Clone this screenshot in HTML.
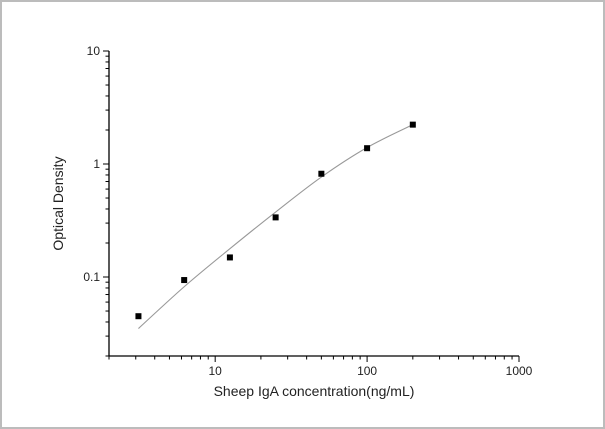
<!DOCTYPE html>
<html><head><meta charset="utf-8"><style>
body{margin:0;background:#fff}
#wrap{width:605px;height:429px;box-sizing:border-box;border:2px solid #bcbcbc;position:relative;background:#fff}
svg{position:absolute;left:-2px;top:-2px}
text{font-family:"Liberation Sans",Arial,sans-serif;fill:#222}
</style></head><body>
<div id="wrap">
<svg id="chart" width="605" height="429"></svg>
</div>
<script>
const xTicks=[10,100,1000];
const xTickLabels=["10","100","1000"];
const yTicks=[0.1,1,10];
const yTickLabels=["0.1","1","10"];
const concentrations=[3.125,6.25,12.5,25,50,100,200];
const odValues=[0.045,0.094,0.149,0.337,0.82,1.38,2.23];
const fitX=[3.125,6.25,12.5,25,50,100,200];
const fitY=[0.035,0.082,0.178,0.376,0.767,1.40,2.23];

const svg=document.getElementById('chart');
const NS='http://www.w3.org/2000/svg';
const L=109,R=519,T=51,B=356;
const xMin=2,xMax=1000,yMin=0.02,yMax=10;
const xs=v=>L+(Math.log10(v)-Math.log10(xMin))/(Math.log10(xMax)-Math.log10(xMin))*(R-L);
const ys=v=>B-(Math.log10(v)-Math.log10(yMin))/(Math.log10(yMax)-Math.log10(yMin))*(B-T);
function mk(tag,attrs){const e=document.createElementNS(NS,tag);for(const k in attrs)e.setAttribute(k,attrs[k]);svg.appendChild(e);return e;}

let e=mk('line',{x1:L,y1:T,x2:L,y2:B,stroke:'#000','stroke-width':1.3});


e=mk('line',{x1:L,y1:B,x2:R,y2:B,stroke:'#000','stroke-width':1.3});



for(let d=1;d<=1000;d*=10){for(let m=1;m<10;m++){const v=d*m;if(v<xMin||v>xMax)continue;const x=xs(v);const major=m===1;
 e=mk('line',{x1:x,y1:B,x2:x,y2:B+(major?6:3.5),stroke:'#000','stroke-width':1});
 
 
 if(v===xMax)break;}}
xTicks.forEach((v,i)=>{e=mk('text',{x:xs(v),y:B+19,'font-size':12,'text-anchor':'middle'});e.textContent=xTickLabels[i];
 
 });
for(let d=0.01;d<=10;d*=10){for(let m=1;m<10;m++){const v=+(d*m).toPrecision(3);if(v<yMin-1e-9||v>yMax+1e-9)continue;const y=ys(v);const major=m===1;
 e=mk('line',{x1:L,y1:y,x2:L-(major?6:3.5),y2:y,stroke:'#000','stroke-width':1});
 
 
 if(Math.abs(v-yMax)<1e-9)break;}}
yTicks.forEach((v,i)=>{e=mk('text',{x:L-9,y:ys(v)+4,'font-size':12,'text-anchor':'end'});e.textContent=yTickLabels[i];
 
 });

const P=fitX.map((v,i)=>[xs(v),ys(fitY[i])]);
let d='M'+P[0][0]+','+P[0][1];
for(let i=0;i<P.length-1;i++){const p0=P[i-1]||P[i],p1=P[i],p2=P[i+1],p3=P[i+2]||P[i+1];
 d+=` C${p1[0]+(p2[0]-p0[0])/6},${p1[1]+(p2[1]-p0[1])/6} ${p2[0]-(p3[0]-p1[0])/6},${p2[1]-(p3[1]-p1[1])/6} ${p2[0]},${p2[1]}`;}
e=mk('path',{d:d,fill:'none',stroke:'#999','stroke-width':1.1});



concentrations.forEach((v,i)=>{e=mk('rect',{x:xs(v)-3,y:ys(odValues[i])-3,width:6,height:6,fill:'#000'});
 
 });

e=mk('text',{x:(L+R)/2,y:396,'font-size':14,'text-anchor':'middle'});e.textContent='Sheep IgA concentration(ng/mL)';


e=mk('text',{x:0,y:0,'font-size':14,'text-anchor':'middle',transform:`translate(63,${(T+B)/2}) rotate(-90)`});e.textContent='Optical Density';


</script>
</body></html>
